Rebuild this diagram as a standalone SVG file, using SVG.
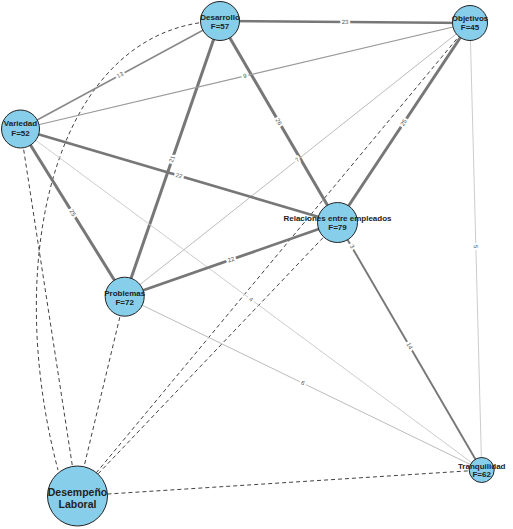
<svg xmlns="http://www.w3.org/2000/svg" width="513" height="529" viewBox="0 0 513 529">
<style>
.e{fill:none;stroke-linecap:butt}
.d{fill:none;stroke:#111;stroke-width:0.8;stroke-dasharray:4,3}
.w{font-family:"Liberation Sans",Arial,sans-serif;font-size:6px;fill:#555;text-anchor:middle;dominant-baseline:central;stroke:#fff;stroke-width:4;paint-order:stroke;stroke-linejoin:round}
.n circle{fill:#87CEEB;stroke:#222;stroke-width:1}
.n text{font-family:"Liberation Sans",Arial,sans-serif;font-size:8px;font-weight:bold;fill:#222;text-anchor:middle}
</style>
<rect width="513" height="529" fill="#fff"/>
<g id="connectors">
<!-- dashed to Desempeño -->
<path class="d" d="M220,21 C60,25 0,250 58,470"/>
<line class="d" x1="20.5" y1="129" x2="77" y2="496"/>
<line class="d" x1="124.7" y1="296.7" x2="77" y2="496"/>
<line class="d" x1="470" y1="23" x2="77" y2="496"/>
<line class="d" x1="337.5" y1="222.5" x2="77" y2="496"/>
<line class="d" x1="481.7" y1="470" x2="77" y2="496"/>
<!-- weighted edges -->
<line class="e" x1="220" y1="21" x2="470" y2="23" stroke="#777" stroke-width="2.6"/>
<line class="e" x1="220" y1="21" x2="20.5" y2="129" stroke="#888" stroke-width="1.5"/>
<line class="e" x1="220" y1="21" x2="124.7" y2="296.7" stroke="#777" stroke-width="3"/>
<line class="e" x1="220" y1="21" x2="337.5" y2="222.5" stroke="#777" stroke-width="3"/>
<line class="e" x1="470" y1="23" x2="20.5" y2="129" stroke="#999" stroke-width="1.2"/>
<line class="e" x1="470" y1="23" x2="124.7" y2="296.7" stroke="#bbb" stroke-width="1"/>
<line class="e" x1="470" y1="23" x2="337.5" y2="222.5" stroke="#777" stroke-width="3"/>
<line class="e" x1="470" y1="23" x2="481.7" y2="470" stroke="#ccc" stroke-width="1"/>
<line class="e" x1="20.5" y1="129" x2="337.5" y2="222.5" stroke="#777" stroke-width="2.6"/>
<line class="e" x1="20.5" y1="129" x2="124.7" y2="296.7" stroke="#777" stroke-width="3"/>
<line class="e" x1="20.5" y1="129" x2="481.7" y2="470" stroke="#ccc" stroke-width="1"/>
<line class="e" x1="337.5" y1="222.5" x2="124.7" y2="296.7" stroke="#777" stroke-width="2.8"/>
<line class="e" x1="337.5" y1="222.5" x2="481.7" y2="470" stroke="#777" stroke-width="1.9"/>
<line class="e" x1="124.7" y1="296.7" x2="481.7" y2="470" stroke="#bbb" stroke-width="1"/>
</g>
<g id="edge-labels">
<text class="w" transform="translate(345,22) rotate(0.5)">23</text>
<text class="w" transform="translate(120,75) rotate(-28.4)">13</text>
<text class="w" transform="translate(172,159) rotate(-70.9)">21</text>
<text class="w" transform="translate(278.7,121.7) rotate(59.7)">26</text>
<text class="w" transform="translate(245,76) rotate(-13.3)">9</text>
<text class="w" transform="translate(297.3,160) rotate(-38.4)">7</text>
<text class="w" transform="translate(403.7,122.7) rotate(-56.4)">25</text>
<text class="w" transform="translate(475.8,246.5) rotate(88.5)">5</text>
<text class="w" transform="translate(179,175.7) rotate(16.4)">22</text>
<text class="w" transform="translate(72.6,212.9) rotate(58.1)">25</text>
<text class="w" transform="translate(251,299.5) rotate(36.5)">4</text>
<text class="w" transform="translate(231,259.6) rotate(-19.2)">22</text>
<text class="w" transform="translate(352,246.5) rotate(59.8)">3</text>
<text class="w" transform="translate(409.6,346) rotate(59.8)">14</text>
<text class="w" transform="translate(303,383) rotate(25.9)">6</text>
</g>
<g id="n-desarrollo" class="n"><circle cx="220" cy="21" r="19.5"/><text x="220" y="19.5">Desarrollo</text><text x="220" y="29">F=57</text></g>
<g id="n-objetivos" class="n"><circle cx="470" cy="23" r="17.5"/><text x="470" y="21">Objetivos</text><text x="470" y="30">F=45</text></g>
<g id="n-variedad" class="n"><circle cx="20.5" cy="129" r="19"/><text x="20.5" y="126">Variedad</text><text x="20.5" y="135.5">F=52</text></g>
<g id="n-relaciones" class="n"><circle cx="337.5" cy="222.5" r="20"/><text x="337.5" y="221">Relaciones entre empleados</text><text x="337.5" y="229.5">F=79</text></g>
<g id="n-problemas" class="n"><circle cx="124.7" cy="296.7" r="19.5"/><text x="124.7" y="296">Problemas</text><text x="124.7" y="305">F=72</text></g>
<g id="n-tranquilidad" class="n"><circle cx="481.7" cy="470" r="12.5"/><text x="481.7" y="469">Tranquilidad</text><text x="481.7" y="477">F=62</text></g>
<g id="n-desempeno" class="n"><circle cx="77.5" cy="496" r="30"/><text x="77.5" y="495.5" style="font-size:10.5px">Desempeño</text><text x="77.5" y="508" style="font-size:10.5px">Laboral</text></g>
</svg>
